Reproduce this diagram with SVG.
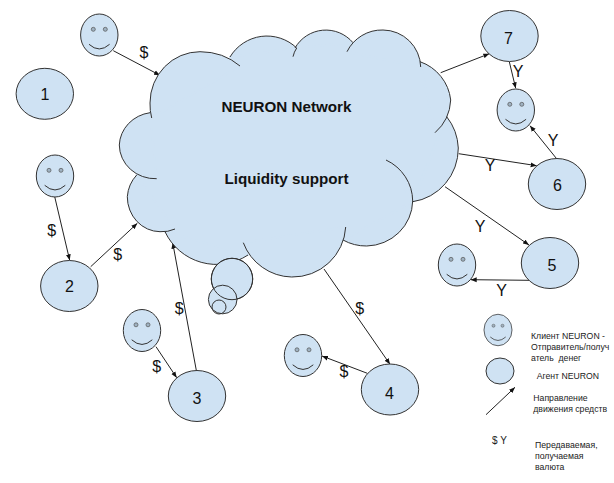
<svg xmlns="http://www.w3.org/2000/svg" xmlns:xlink="http://www.w3.org/1999/xlink" width="614" height="483" viewBox="0 0 614 483">
<style>
text{font-family:"Liberation Sans",Arial,sans-serif;fill:#111}
.n{fill:#cfe2f3;stroke:#333;stroke-width:1}
.o{fill:none;stroke:#333;stroke-width:1}
.eye{fill:#9fb2c2;stroke:#555;stroke-width:.7}
.c{fill:none;stroke:#222;stroke-width:1;marker-end:url(#a)}
.t{font-size:16px;text-anchor:middle}
.b{font-size:15.2px;font-weight:bold;text-anchor:middle}
.l{font-size:8.7px;fill:#222}
</style>
<defs>
<marker id="a" markerWidth="7" markerHeight="6" refX="6" refY="3" orient="auto" markerUnits="userSpaceOnUse"><path d="M0 .6L6 3L0 5.4z" fill="#111"/></marker>
<g id="smile">
<ellipse class="n" rx="18.7" ry="21"/>
<circle class="eye" cx="-6" cy="-5.7" r="2"/><circle class="eye" cx="6" cy="-5.7" r="2"/>
<path class="o" d="M-10.3 9.3Q0 18.6 10.3 9.3"/>
</g>
</defs>
<g id="connectors">
<path class="c" d="M113.300 50.700L160 75.300"/>
<path class="c" d="M54.700 196.700L69.700 260.300"/>
<path class="c" d="M90.700 266.700L137.300 223.300"/>
<path class="c" d="M156 346.700L176.700 377.700"/>
<path class="c" d="M196.300 370.300L172.700 242.700"/>
<path class="c" d="M324 269L390 364.300"/>
<path class="c" d="M367.300 373.300L322 356"/>
<path class="c" d="M445 186.700L529 245"/>
<path class="c" d="M529 280.300L470.700 279.700"/>
<path class="c" d="M458.700 153.700L536.700 165.700"/>
<path class="c" d="M556.300 158.300L530 125.700"/>
<path class="c" d="M440.700 72.700L489.300 53.700"/>
<path class="c" d="M509.300 61.700L515.700 88.300"/>
<path class="c" d="M486 414.700L515 387.300"/>
</g>
<g id="cloud">
<path class="n" style="stroke:none" d="M151.700 118A50 51.300 0 0 1 150 103A50 51.300 0 0 1 200 51.700A58 51.300 0 0 1 240 66
M230 57A43 43 0 0 1 296.700 48Q294 52 293 56.700
M295 48A35.500 35.500 0 0 1 353 42.700
M347 51.700A39 39 0 0 1 383 30A38 38 0 0 1 420.700 67
M420 61.700A46 46 0 0 1 450.700 100A46 46 0 0 1 435 132.700
M446.700 116.700A53 54 0 0 1 458.300 148A53 54 0 0 1 412.700 201.700
M386 160A47 46 0 0 1 412.700 201A47 46 0 0 1 366.700 246A47 46 0 0 1 343 240
M345.700 227A53 53 0 0 1 291.700 277A53 53 0 0 1 243.300 242.700
M248 255A57 57 0 0 1 165 231.700
M175 229A33 35 0 0 1 160 231.700A33 35 0 0 1 127.300 196.700A33 35 0 0 1 136.700 175
M156.700 178.700A36 34 0 0 1 119.300 145A36 34 0 0 1 150 112.700"/>
<path fill="#cfe2f3" stroke="#cfe2f3" stroke-width="2" stroke-linejoin="round" d="M151.700 118L240 66L230 57L296 48L295 48L353 42.700L347 51.700L420.700 67L420 61.700L435 132.700L446.700 116.700L412.700 201.700L386 160L412.700 201.700L343 240L345.700 227L243.300 242.700L248 255L165 231.700L175 229L136.700 175L156.700 178.700L150 112.700Z"/>
<path class="o" d="M151.700 118A50 51.300 0 0 1 150 103A50 51.300 0 0 1 200 51.700A58 51.300 0 0 1 240 66
M230 57A43 43 0 0 1 296.700 48Q294 52 293 56.700
M295 48A35.500 35.500 0 0 1 353 42.700
M347 51.700A39 39 0 0 1 383 30A38 38 0 0 1 420.700 67
M420 61.700A46 46 0 0 1 450.700 100A46 46 0 0 1 435 132.700
M446.700 116.700A53 54 0 0 1 458.300 148A53 54 0 0 1 412.700 201.700
M386 160A47 46 0 0 1 412.700 201A47 46 0 0 1 366.700 246A47 46 0 0 1 343 240
M345.700 227A53 53 0 0 1 291.700 277A53 53 0 0 1 243.300 242.700
M248 255A57 57 0 0 1 165 231.700
M175 229A33 35 0 0 1 160 231.700A33 35 0 0 1 127.300 196.700A33 35 0 0 1 136.700 175
M156.700 178.700A36 34 0 0 1 119.300 145A36 34 0 0 1 150 112.700"/>
<circle class="n" cx="232" cy="279" r="20.700"/>
<circle class="n" cx="222.700" cy="299.500" r="14.300"/>
<circle class="o" cx="232" cy="279" r="20.700"/>
<circle class="o" cx="219" cy="307" r="7"/>
<text class="b" x="286.500" y="112">NEURON Network</text>
<text class="b" x="286.500" y="184">Liquidity support</text>
</g>
<g id="node1"><ellipse class="n" cx="44.800" cy="93.800" rx="28.700" ry="25.500"/><text class="t" x="45" y="99.500">1</text></g>
<g id="node2"><ellipse class="n" cx="69.300" cy="286" rx="28.700" ry="25.500"/><text class="t" x="69.500" y="292">2</text></g>
<g id="node3"><ellipse class="n" cx="197" cy="396" rx="28.700" ry="25.500"/><text class="t" x="197" y="404">3</text></g>
<g id="node4"><ellipse class="n" cx="390" cy="389.500" rx="28.700" ry="25.500"/><text class="t" x="389.500" y="399">4</text></g>
<g id="node5"><ellipse class="n" cx="550" cy="263" rx="28.700" ry="25.500"/><text class="t" x="552" y="270.700">5</text></g>
<g id="node6"><ellipse class="n" cx="557" cy="184" rx="28.700" ry="25.500"/><text class="t" x="557.500" y="190.700">6</text></g>
<g id="node7"><ellipse class="n" cx="509.500" cy="36" rx="28.700" ry="25.500"/><text class="t" x="508.500" y="44">7</text></g>
<g id="client1"><use xlink:href="#smile" transform="translate(99.300 35)"/></g>
<g id="client2"><use xlink:href="#smile" transform="translate(55 176)"/></g>
<g id="client3"><use xlink:href="#smile" transform="translate(142 330.500)"/></g>
<g id="client4"><use xlink:href="#smile" transform="translate(303 355.500)"/></g>
<g id="client5"><use xlink:href="#smile" transform="translate(457 265)"/></g>
<g id="client6"><use xlink:href="#smile" transform="translate(515.800 110)"/></g>
<g id="labels">
<text class="t" x="144" y="58">$</text>
<text class="t" x="51.700" y="236">$</text>
<text class="t" x="117.700" y="259.500">$</text>
<text class="t" x="179.300" y="313.500">$</text>
<text class="t" x="156.700" y="372">$</text>
<text class="t" x="359.700" y="313.500">$</text>
<text class="t" x="344" y="376.500">$</text>
<text class="t" x="518" y="76.500">Y</text>
<text class="t" x="553" y="145.500">Y</text>
<text class="t" x="490" y="171">Y</text>
<text class="t" x="480" y="231.500">Y</text>
<text class="t" x="501.700" y="295.500">Y</text>
</g>
<g id="legend">
<use xlink:href="#smile" transform="translate(498 330) scale(.75)"/>
<ellipse class="n" cx="500" cy="371" rx="14" ry="13"/>
<text class="l" x="531" y="339">Клиент NEURON -</text>
<text class="l" x="531" y="349.500">Отправитель/получ</text>
<text class="l" x="531" y="361" xml:space="preserve">атель  денег</text>
<text class="l" x="536.700" y="378.500">Агент NEURON</text>
<text class="l" x="533.300" y="400.500">Направление</text>
<text class="l" x="533.300" y="411.500">движения средств</text>
<text x="492" y="444" style="font-size:10px;fill:#222">$ Y</text>
<text class="l" x="535" y="447.500">Передаваемая,</text>
<text class="l" x="535" y="458.500">получаемая</text>
<text class="l" x="535" y="469.500">валюта</text>
</g>
</svg>
